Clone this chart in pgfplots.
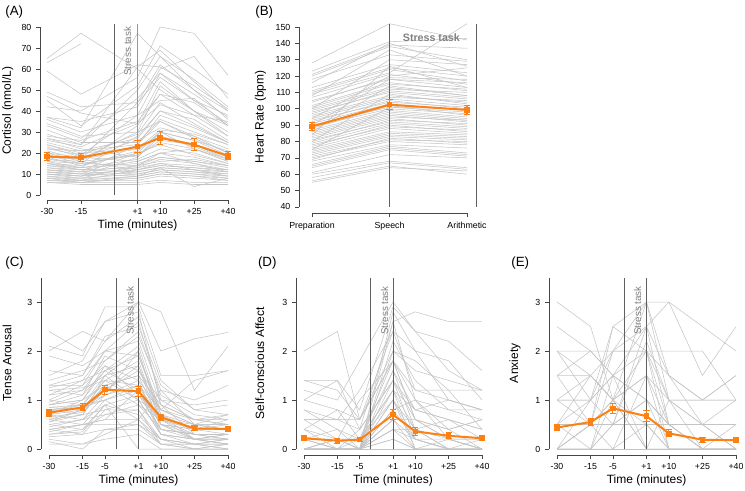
\documentclass[border=0pt]{standalone}
\usepackage{fontspec}
\setmainfont{Liberation Sans}
\usepackage{pgfplots}
\usepackage{pgfplotstable}
\pgfplotsset{compat=1.18}
\definecolor{lgray}{RGB}{196,196,196}
\definecolor{vgray}{RGB}{95,95,95}
\definecolor{vlgray}{RGB}{150,150,150}
\definecolor{axgray}{RGB}{70,70,70}
\definecolor{orangec}{RGB}{252,128,18}
\definecolor{txtgray}{RGB}{128,128,128}

% Panel A: cortisol (rows = participants; first row = x positions)
\pgfplotstableread[header=false]{
0 15 40 50 65 80
63 72 nan nan nan nan
65 77 60 50 40 33
59 48 62 61 52 41
49 42 44 56 45 38
47 39 34 43 38 35
45 33 52 71 60 48
42 40 56 80 77 57
37 35 42 60 66 46
37 32 77 66 50 40
36 30 38 45 46 33
34 28 30 52 40 30
33 27 46 58 48 37
31 25 25 36 30 24
29 24 61 69 54 40
28 26 35 48 44 33
27 22 18 30 26 21
26 23 34 54 40 28
25 21 27 40 36 26
24 20 22 31 29 24
24 19 29 44 34 25
23 18 16 20 22 17
22 21 24 38 32 25
21 17 30 35 27 20
20 16 19 26 24 18
20 18 26 32 28 22
19 15 14 16 17 14
18 17 22 28 23 17
18 14 21 30 26 19
17 16 12 14 13 12
16 15 19 25 22 16
16 13 15 18 16 14
15 14 20 24 19 15
15 12 11 13 12 11
14 13 17 22 20 15
14 12 13 15 14 12
13 12 16 20 18 14
13 11 10 12 11 10
12 11 14 18 16 13
12 10 12 14 13 11
11 10 9 11 10 9
11 9 13 17 15 12
10 9 11 13 12 10
10 8 8 10 9 8
9 8 10 12 11 9
9 7 9 11 10 8
8 7 7 9 8 7
8 6 8 10 9 7
7 6 6 7 6 6
7 7 12 15 12 9
6 5 5 6 5 5
19 17 44 62 50 36
22 19 38 58 45 34
15 13 28 40 33 25
12 11 24 35 28 20
27 24 50 66 55 42
10 9 18 28 24 17
17 15 33 48 38 28
8 8 14 20 15 11
11 10 20 30 22 16
6 6 9 13 4 8
}\rawA
\pgfplotstabletranspose{\dataA}{\rawA}

% Panel B: heart rate
\pgfplotstableread[header=false]{
0 1 2
128 152 142
123 141 143
121 139 137
120 138 130
118 133 129
116 140 126
113 127 122
111 125 120
110 124 117
109 122 152
107 121 115
105 118 113
104 119 118
102 116 111
101 115 112
100 113 108
99 112 110
98 110 106
97 111 107
96 108 104
95 107 105
94 106 102
93 104 101
92 105 100
91 103 99
90 101 98
89 100 97
88 102 96
87 99 95
86 98 94
85 97 93
84 96 92
83 95 93
82 94 90
81 92 89
80 93 91
79 91 88
78 89 87
77 90 86
76 88 85
75 86 84
74 85 83
73 84 82
72 83 81
71 81 80
70 80 78
69 82 79
68 78 76
66 77 73
65 76 72
64 75 71
61 72 70
60 68 64
58 67 63
56 65 60
55 64 62
100 130 127
94 120 125
86 114 108
80 109 103
75 101 100
90 118 116
84 126 113
108 136 120
}\rawB
\pgfplotstabletranspose{\dataB}{\rawB}

% Panel C: tense arousal
\pgfplotstableread[header=false]{
0 15 25 40 50 65 80
2.4 2.0 2.6 3.0 2.0 2.25 2.38
2.1 1.9 2.9 2.9 1.5 1.5 1.6
2.0 2.4 2.2 3.0 2.8 1.2 2.1
1.9 1.7 2.0 2.6 1.0 0.9 1.0
1.6 1.5 2.3 2.5 1.3 0.8 0.7
1.5 1.8 2.6 2.8 0.9 0.6 0.5
1.4 1.6 1.8 2.3 1.2 1.0 1.3
1.3 1.3 2.0 1.9 0.8 0.5 0.5
1.25 1.4 1.6 2.1 0.7 0.4 0.4
1.2 1.1 1.9 1.6 1.0 0.6 0.6
1.1 1.2 1.5 2.0 0.6 0.3 0.3
1.0 1.3 1.7 1.4 0.8 0.5 0.4
1.0 0.9 1.4 1.8 0.5 0.4 0.6
0.9 1.0 1.3 1.5 0.9 0.3 0.2
0.9 1.1 1.6 1.2 0.4 0.2 0.3
0.85 0.8 1.2 1.7 0.6 0.5 0.5
0.8 0.9 1.0 1.3 0.5 0.4 0.3
0.8 0.7 1.5 1.0 0.7 0.2 0.2
0.75 0.9 1.1 1.4 0.3 0.1 0.2
0.7 0.8 1.3 0.9 0.6 0.4 0.4
0.7 0.6 0.9 1.1 0.4 0.3 0.3
0.65 0.75 1.2 1.6 0.8 0.6 0.5
0.6 0.7 0.8 0.8 0.2 0.1 0.1
0.6 0.5 1.0 1.2 0.5 0.2 0.3
0.55 0.8 1.4 1.0 0.3 0.2 0.1
0.5 0.6 0.7 0.9 0.4 0.3 0.3
0.5 0.4 0.9 0.7 0.2 0.1 0.2
0.45 0.6 1.1 1.3 0.6 0.2 0.1
0.4 0.5 0.6 0.6 0.1 0.1 0.1
0.4 0.3 0.8 1.0 0.3 0.2 0.2
0.35 0.5 0.5 0.5 0.2 0.0 0.1
0.3 0.4 0.7 0.8 0.1 0.1 0.0
0.25 0.3 0.4 0.4 0.1 0.0 0.0
0.2 0.1 0.3 0.6 0.2 0.1 0.0
0.1 0.1 0.2 0.3 0.0 0.0 0.0
0.15 0.0 0.4 0.5 0.1 0.0 0.1
1.3 1.5 2.2 2.7 1.4 0.8 0.9
0.95 1.2 1.8 2.4 1.1 0.7 0.6
0.7 1.0 1.6 1.9 0.7 0.5 0.4
0.55 0.7 1.3 1.5 0.5 0.3 0.3
1.1 1.4 2.0 2.2 0.9 0.6 0.7
0.85 0.9 1.5 1.7 0.4 0.3 0.2
0.3 0.35 0.9 0.0 0.0 0.0 0.0
0.6 0.8 1.1 2.0 0.5 0.2 0.2
0.9 1.0 1.7 1.1 0.6 0.4 0.5
0.4 0.5 0.6 1.2 0.3 0.2 0.1
1.2 1.25 1.4 1.3 0.8 1.4 1.6
0.8 0.85 1.0 0.6 1.2 0.5 0.7
}\rawC
\pgfplotstabletranspose{\dataC}{\rawC}

% Panel D: self-conscious affect
\pgfplotstableread[header=false]{
0 15 25 40 50 65 80
2.0 2.4 0.6 2.0 1.6 1.4 1.2
1.4 1.4 0.8 2.9 2.4 2.2 1.6
1.2 1.0 1.8 3.0 2.4 1.6 1.2
1.0 1.4 0.4 2.6 2.8 2.6 2.6
1.0 0.8 0.6 1.8 1.0 0.8 0.8
0.8 0.6 1.2 2.4 1.2 1.0 0.8
0.8 0.4 0.2 1.6 0.8 0.6 0.4
0.6 0.6 0.4 1.4 0.6 0.4 0.6
0.6 0.2 0.0 1.0 0.4 0.2 0.0
0.4 0.8 0.2 1.2 0.8 1.0 0.8
0.4 0.0 0.0 0.8 0.2 0.0 0.0
0.2 0.4 0.0 2.0 1.8 1.2 0.4
0.2 0.2 0.2 1.0 0.0 0.2 0.0
0.0 0.2 0.0 0.6 0.2 0.0 0.2
0.0 0.0 0.0 0.4 0.0 0.0 0.0
0.0 0.0 0.2 1.8 0.6 0.2 0.0
0.0 0.0 0.0 0.2 0.0 0.0 0.0
0.0 0.0 0.0 0.0 0.0 0.0 0.0
0.0 0.0 0.0 1.2 0.4 0.6 0.2
0.0 0.0 0.0 0.8 1.0 0.4 0.0
0.2 0.0 0.0 1.6 0.4 0.0 0.0
0.0 0.2 0.0 0.6 0.0 0.0 0.0
0.0 0.0 0.0 2.2 1.4 0.8 0.6
0.0 0.0 0.4 1.4 0.2 0.0 0.0
0.2 0.0 0.0 0.4 0.2 0.2 0.2
0.0 0.0 0.0 2.8 2.0 1.0 0.8
0.0 0.0 0.0 0.0 0.0 0.0 0.0
0.4 0.2 1.0 1.8 0.6 0.4 0.6
0.0 0.0 0.0 1.0 0.2 0.0 0.0
0.0 0.0 0.0 0.6 0.6 0.2 0.0
0.0 0.2 0.2 1.2 0.0 0.0 0.0
0.0 0.0 0.0 0.4 0.4 0.0 0.0
0.2 0.0 0.0 1.4 0.8 0.6 0.4
0.0 0.0 0.0 0.2 0.0 0.0 0.0
0.0 0.0 0.0 2.6 1.0 0.2 0.2
0.6 0.6 0.6 1.8 1.2 1.2 1.2
1.4 1.2 0.6 2.4 2.0 1.8 1.0
}\rawD
\pgfplotstabletranspose{\dataD}{\rawD}

% Panel E: anxiety
\pgfplotstableread[header=false]{
0 15 25 40 50 65 80
3.0 2.5 1.0 3.0 3.0 2.5 2.0
2.5 2.0 1.5 2.5 3.0 1.5 2.5
2.0 1.0 2.5 3.0 1.0 0.5 1.0
2.0 2.0 2.0 2.0 2.0 2.0 1.0
1.5 0.5 2.5 2.0 1.5 1.0 1.5
1.0 1.5 2.0 2.5 0.5 0.0 0.0
1.0 1.0 0.5 2.2 1.0 1.0 1.0
0.5 1.5 1.0 1.5 0.0 0.0 0.0
0.5 0.0 1.5 1.0 0.5 0.0 0.5
0.5 0.5 1.0 0.5 0.0 0.0 0.0
0.0 0.5 2.0 2.0 0.5 0.5 0.5
0.0 0.0 0.5 1.0 0.0 0.0 0.0
0.0 0.0 0.0 0.5 0.0 0.0 0.0
0.0 0.0 0.0 0.0 0.0 0.0 0.0
0.0 1.0 1.5 0.0 0.0 0.0 0.0
1.0 0.5 0.0 1.5 0.5 0.0 0.0
0.0 0.5 0.5 2.5 1.5 0.5 0.0
1.5 2.0 1.5 1.0 0.5 0.5 0.5
0.5 1.0 2.0 3.0 1.5 1.0 1.0
0.0 0.0 1.0 2.0 0.0 0.0 0.0
2.0 1.5 1.0 0.0 0.0 0.0 0.0
0.5 0.5 0.5 0.5 0.5 0.5 0.5
0.0 0.0 0.5 1.0 0.5 0.0 0.0
1.0 1.0 1.5 2.0 1.0 0.5 0.0
0.0 0.5 1.0 0.0 1.0 0.0 0.0
1.5 1.5 1.0 1.5 1.0 1.0 1.5
}\rawE
\pgfplotstabletranspose{\dataE}{\rawE}

\pgfplotstablegetcolsof{\dataA}\pgfmathtruncatemacro\lastA{\pgfplotsretval-1}
\pgfplotstablegetcolsof{\dataB}\pgfmathtruncatemacro\lastB{\pgfplotsretval-1}
\pgfplotstablegetcolsof{\dataC}\pgfmathtruncatemacro\lastC{\pgfplotsretval-1}
\pgfplotstablegetcolsof{\dataD}\pgfmathtruncatemacro\lastD{\pgfplotsretval-1}
\pgfplotstablegetcolsof{\dataE}\pgfmathtruncatemacro\lastE{\pgfplotsretval-1}

\pgfplotsset{
  Rstyle/.style={
    anchor=south west,
    axis x line*=bottom, axis y line*=left,
    axis line style={draw=none},
    tick align=outside, major tick length=3pt,
    tick style={axgray, line width=0.5pt},
    ticklabel style={font=\fontsize{6.6}{7.5}\selectfont, text=black},
    label style={font=\fontsize{9}{10.5}\selectfont},
    /pgf/number format/assume math mode=true,
    clip=false,
    unbounded coords=jump,
  },
  timex/.style={
    xtick={0,15,25,40,50,65,80},
    xticklabels={-30,-15,-5,+1,+10,+25,+40},
  },
  grayline/.style={lgray, line width=0.4pt, forget plot},
  meanline/.style={orangec, line width=1.5pt, mark=square*, mark size=1.3pt,
    mark options={fill=orangec, draw=orangec},
    error bars/.cd, y dir=both, y explicit,
    error bar style={line width=0.8pt, orangec},
    error mark options={rotate=90, orangec, mark size=2.3pt, line width=0.8pt}},
}
\tikzset{
  stresstxt/.style={rotate=90, anchor=east, text=txtgray, font=\fontsize{7.4}{8}\selectfont},
}

\begin{document}
\begin{tikzpicture}
\useasboundingbox (0,0) rectangle (558.75pt,367.5pt);

% ---------------- (A)
\begin{axis}[Rstyle, at={(30pt,217.5pt)},
  x=1.697pt, y=1.575pt, xmin=-3.1, xmax=83.1, ymin=-2.38, ymax=82.4,
  xtick={0,15,40,50,65,80}, xticklabels={-30,-15,+1,+10,+25,+40},
  ytick={0,10,...,80},
  xlabel={Time (minutes)}, ylabel={Cortisol (nmol/L)},
  xlabel style={at={(axis description cs:0.5,-0.145)}, anchor=center},
  ylabel style={at={(axis description cs:-0.165,0.5)}, anchor=center},
]
\pgfplotsinvokeforeach{2,...,\lastA}{\addplot[grayline] table[x index=1, y index=#1]{\dataA};}
\draw[vgray, line width=0.7pt] (axis cs:30,0) -- (axis cs:30,81.5);
\draw[vlgray, line width=1.2pt] (axis cs:40,-2.38) -- (axis cs:40,81.5);
\node[stresstxt] at (axis cs:35.6,82.3) {Stress task};
\addplot[meanline] coordinates {(0,18.3)+-(0,2.0) (15,17.8)+-(0,2.0) (40,23.0)+-(0,2.8) (50,27.2)+-(0,3.1) (65,24.0)+-(0,2.8) (80,18.6)+-(0,1.9)};
\draw[axgray, line width=0.5pt] (axis cs:-3.1,0) -- (axis cs:-3.1,80);
\draw[axgray, line width=0.5pt] (axis cs:0,-2.38) -- (axis cs:80,-2.38);
\end{axis}

% ---------------- (B)
\begin{axis}[Rstyle, at={(224.25pt,207.75pt)},
  x=58.125pt, y=1.227pt, xmin=-0.168, xmax=2.17, ymin=36.3, ymax=153.7,
  xtick={0,1,2}, xticklabels={Preparation,Speech,Arithmetic},
  ytick={40,50,...,150},
  ylabel={Heart Rate (bpm)},
  ylabel style={at={(axis description cs:-0.213,0.5)}, anchor=center},
]
\pgfplotsinvokeforeach{2,...,\lastB}{\addplot[grayline] table[x index=1, y index=#1]{\dataB};}
\draw[vgray, line width=0.7pt] (axis cs:1,40) -- (axis cs:1,152);
\draw[vgray, line width=0.7pt] (axis cs:2.116,40) -- (axis cs:2.116,152);
\node[text=txtgray, font=\bfseries\fontsize{8}{9}\selectfont] at (axis cs:1.54,143.3) {Stress task};
\addplot[meanline] coordinates {(0,89.2)+-(0,2.6) (1,102.5)+-(0,3.0) (2,99.3)+-(0,2.9)};
\draw[axgray, line width=0.5pt] (axis cs:-0.168,40) -- (axis cs:-0.168,150);
\draw[axgray, line width=0.5pt] (axis cs:0,36.3) -- (axis cs:2,36.3);
\end{axis}

% ---------------- (C)
\begin{axis}[Rstyle, timex, at={(30.75pt,26.25pt)},
  x=1.678pt, y=36.75pt, xmin=-3.58, xmax=83.6, ymin=-0.122, ymax=3.62,
  ytick={0,1,2,3},
  xlabel={Time (minutes)}, ylabel={Tense Arousal},
  xlabel style={at={(axis description cs:0.5,-0.136)}, anchor=center},
  ylabel style={at={(axis description cs:-0.174,0.5)}, anchor=center},
]
\pgfplotsinvokeforeach{2,...,\lastC}{\addplot[grayline] table[x index=1, y index=#1]{\dataC};}
\draw[vgray, line width=0.7pt] (axis cs:30,0) -- (axis cs:30,3.5);
\draw[vgray, line width=0.7pt] (axis cs:40,0) -- (axis cs:40,3.5);
\node[stresstxt] at (axis cs:36.2,3.42) {Stress task};
\addplot[meanline] coordinates {(0,0.74)+-(0,0.07) (15,0.85)+-(0,0.07) (25,1.21)+-(0,0.09) (40,1.18)+-(0,0.10) (50,0.65)+-(0,0.06) (65,0.42)+-(0,0.05) (80,0.41)+-(0,0.05)};
\draw[axgray, line width=0.5pt] (axis cs:-3.58,0) -- (axis cs:-3.58,3.5);
\draw[axgray, line width=0.5pt] (axis cs:0,-0.122) -- (axis cs:80,-0.122);
\end{axis}

% ---------------- (D)
\begin{axis}[Rstyle, timex, at={(222pt,26.25pt)},
  x=1.669pt, y=36.75pt, xmin=-3.6, xmax=83.6, ymin=-0.122, ymax=3.62,
  ytick={0,1,2,3},
  xlabel={Time (minutes)}, ylabel={Self-conscious Affect},
  xlabel style={at={(axis description cs:0.5,-0.136)}, anchor=center},
  ylabel style={at={(axis description cs:-0.186,0.5)}, anchor=center},
]
\pgfplotsinvokeforeach{2,...,\lastD}{\addplot[grayline] table[x index=1, y index=#1]{\dataD};}
\draw[vgray, line width=0.7pt] (axis cs:30,0) -- (axis cs:30,3.5);
\draw[vgray, line width=0.7pt] (axis cs:40,0) -- (axis cs:40,3.5);
\node[stresstxt] at (axis cs:36.2,3.42) {Stress task};
\addplot[meanline] coordinates {(0,0.22)+-(0,0.05) (15,0.17)+-(0,0.05) (25,0.19)+-(0,0.03) (40,0.70)+-(0,0.10) (50,0.36)+-(0,0.08) (65,0.27)+-(0,0.06) (80,0.22)+-(0,0.05)};
\draw[axgray, line width=0.5pt] (axis cs:-3.6,0) -- (axis cs:-3.6,3.5);
\draw[axgray, line width=0.5pt] (axis cs:0,-0.122) -- (axis cs:80,-0.122);
\end{axis}

% ---------------- (E)
\begin{axis}[Rstyle, timex, at={(411.75pt,26.25pt)},
  x=1.678pt, y=36.75pt, xmin=-3.58, xmax=83.6, ymin=-0.122, ymax=3.62,
  ytick={0,1,2,3},
  xlabel={Time (minutes)}, ylabel={Anxiety},
  xlabel style={at={(axis description cs:0.5,-0.136)}, anchor=center},
  ylabel style={at={(axis description cs:-0.174,0.5)}, anchor=center},
]
\pgfplotsinvokeforeach{2,...,\lastE}{\addplot[grayline] table[x index=1, y index=#1]{\dataE};}
\draw[vgray, line width=0.7pt] (axis cs:30,0) -- (axis cs:30,3.5);
\draw[vgray, line width=0.7pt] (axis cs:40,0) -- (axis cs:40,3.5);
\node[stresstxt] at (axis cs:36,3.42) {Stress task};
\addplot[meanline] coordinates {(0,0.44)+-(0,0.07) (15,0.55)+-(0,0.07) (25,0.83)+-(0,0.10) (40,0.67)+-(0,0.11) (50,0.32)+-(0,0.07) (65,0.19)+-(0,0.05) (80,0.18)+-(0,0.05)};
\draw[axgray, line width=0.5pt] (axis cs:-3.58,0) -- (axis cs:-3.58,3.5);
\draw[axgray, line width=0.5pt] (axis cs:0,-0.122) -- (axis cs:80,-0.122);
\end{axis}

% panel letters
\node[anchor=west, font=\fontsize{10}{12}\selectfont] at (0.5pt,358.5pt) {(A)};
\node[anchor=west, font=\fontsize{10}{12}\selectfont] at (188pt,358.5pt) {(B)};
\node[anchor=west, font=\fontsize{10}{12}\selectfont] at (0.5pt,170.25pt) {(C)};
\node[anchor=west, font=\fontsize{10}{12}\selectfont] at (190pt,170.25pt) {(D)};
\node[anchor=west, font=\fontsize{10}{12}\selectfont] at (380pt,170.25pt) {(E)};
\end{tikzpicture}
\end{document}
